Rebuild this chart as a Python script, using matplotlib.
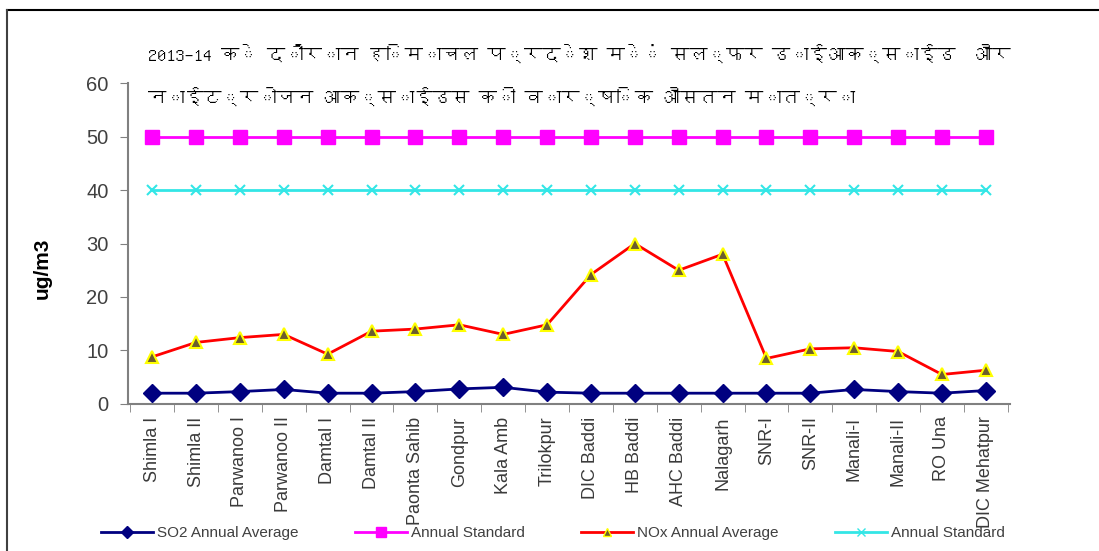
import matplotlib
matplotlib.use('Agg')
import matplotlib.pyplot as plt
from matplotlib import font_manager
from matplotlib.ft2font import FT2Font
from matplotlib.lines import Line2D

# data
sites = ['Shimla I', 'Shimla II', 'Parwanoo I', 'Parwanoo II', 'Damtal I',
         'Damtal II', 'Paonta Sahib', 'Gondpur', 'Kala Amb', 'Trilokpur',
         'DIC Baddi', 'HB Baddi', 'AHC Baddi', 'Nalagarh', 'SNR-I',
         'SNR-II', 'Manali-I', 'Manali-II', 'RO Una', 'DIC Mehatpur']
so2_avg = [2.0, 2.0, 2.3, 2.7, 2.0, 2.0, 2.3, 2.8, 3.1, 2.2,
           2.0, 2.0, 2.0, 2.0, 2.0, 2.0, 2.7, 2.3, 2.0, 2.5]
nox_avg = [8.8, 11.5, 12.4, 13.0, 9.3, 13.6, 14.0, 14.8, 13.0, 14.8,
           24.2, 30.0, 25.0, 28.0, 8.5, 10.3, 10.5, 9.8, 5.5, 6.3]
so2_std = [50] * len(sites)
nox_std = [40] * len(sites)

title = ('2013\u201314 के दौरान हिमाचल प्रदेश में सल्फर डाईआक्साईड  और\n'
         'नाईट्रोजन आक्साईडस की वार्षिक औसतन मात्रा')


def find_devanagari_font():
    # look for any installed font that has Devanagari glyphs
    for path in font_manager.findSystemFonts():
        try:
            cmap = FT2Font(path).get_charmap()
        except Exception:
            continue
        if ord('क') in cmap and ord('0') in cmap:
            return font_manager.FontProperties(fname=path).get_name()
    return None


dev_font = find_devanagari_font()
title_family = [dev_font, 'DejaVu Sans'] if dev_font else ['DejaVu Sans']

plt.rcParams['font.family'] = ['Liberation Sans', 'DejaVu Sans']

fig = plt.figure(figsize=(10.99, 5.51), dpi=100)
ax = fig.add_axes([0.1165, 0.267, 0.8025, 0.582])

x = list(range(len(sites)))

ax.plot(x, so2_avg, color='#000080', lw=2, marker='D', ms=9,
        mfc='#000080', mec='#000080', zorder=4)
ax.plot(x, so2_std, color='#ff00ff', lw=2, marker='s', ms=10,
        mfc='#ff00ff', mec='#ff00ff', zorder=3)
ax.plot(x, nox_avg, color='#ff0000', lw=2, marker='^', ms=9,
        mfc='#6b5d2e', mec='#ffff00', mew=1.5, zorder=4)
ax.plot(x, nox_std, color='#33e6e6', lw=2, marker='x', ms=7,
        mec='#33e6e6', mew=1.5, zorder=3)

ax.set_xlim(-0.55, len(sites) - 0.45)
ax.set_ylim(0, 60)
ax.set_yticks(range(0, 61, 10))
ax.set_xticks(x)
ax.set_xticklabels(sites, rotation=90, fontsize=13, color='#3a3a3a')
ax.set_xticks([i + 0.5 for i in range(-1, len(sites))], minor=True)
ax.tick_params(axis='x', which='major', length=0, pad=9)
ax.tick_params(axis='x', which='minor', length=6, color='#808080', direction='out')
ax.tick_params(axis='y', length=6, color='#808080', labelsize=14.5, labelcolor='#404040', pad=8)

for s in ['top', 'right']:
    ax.spines[s].set_visible(False)
for s in ['left', 'bottom']:
    ax.spines[s].set_color('#808080')
    ax.spines[s].set_linewidth(1.5)

ax.set_ylabel('ug/m3', fontsize=15, fontweight='bold')
ax.yaxis.set_label_coords(-0.086, 0.424)

t = fig.text(148 / 1099, 1 - 44 / 551, title, family=title_family, fontsize=14,
             fontweight='bold', va='top', ha='left', linespacing=2.4)

# no shaping for Devanagari, so squeeze the title to the original width
fig.canvas.draw()
w = t.get_window_extent().width
if w > 0:
    t.set_fontsize(min(16, 14 * 864 / w))

handles = [
    Line2D([], [], color='#000080', lw=2, marker='D', ms=6, mfc='#000080'),
    Line2D([], [], color='#ff00ff', lw=2, marker='s', ms=7, mfc='#ff00ff'),
    Line2D([], [], color='#ff0000', lw=2, marker='^', ms=6, mfc='#6b5d2e', mec='#ffff00'),
    Line2D([], [], color='#33e6e6', lw=2, marker='x', ms=6, mec='#33e6e6'),
]
labels = ['SO2 Annual Average', 'Annual Standard', 'NOx Annual Average', 'Annual Standard']
fig.legend(handles, labels, loc='center', bbox_to_anchor=(0.503, 1 - 533 / 551), ncol=4,
           frameon=False, fontsize=11, handlelength=3.4, columnspacing=3.7,
           labelcolor='#404040', handletextpad=0.26, borderpad=0)

# thin frame at top and left like the original screenshot
fig.add_artist(Line2D([7 / 1099, 1.0], [1 - 10 / 551, 1 - 10 / 551],
                      transform=fig.transFigure, color='black', lw=1.5))
fig.add_artist(Line2D([7 / 1099, 7 / 1099], [0, 1 - 10 / 551],
                      transform=fig.transFigure, color='#404040', lw=1.5))

plt.savefig('out.png', dpi=100)
